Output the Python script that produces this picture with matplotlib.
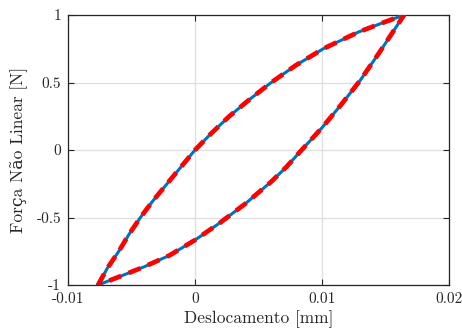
import matplotlib
matplotlib.use("Agg")
import matplotlib.pyplot as plt

plt.rcParams['font.family'] = ['cmr10', 'DejaVu Serif']
plt.rcParams['mathtext.fontset'] = 'cm'
plt.rcParams['axes.unicode_minus'] = False
plt.rcParams['axes.formatter.use_mathtext'] = False

# hysteresis loop: upper branch (loading)
desloc_up = [-0.00764, -0.0069, -0.0060, -0.0052, -0.0043, -0.0033, -0.0022,
             -0.0011, 0.0, 0.0013, 0.0027, 0.0043, 0.0060, 0.0079, 0.0101,
             0.0129, 0.0150, 0.01646]
forca_up = [-1.0, -0.875, -0.75, -0.625, -0.5, -0.375, -0.25,
            -0.125, 0.0, 0.125, 0.25, 0.375, 0.5, 0.625, 0.75,
            0.875, 0.95, 1.0]

# lower branch (unloading), back to the start
desloc_down = [0.01646, 0.0145, 0.0130, 0.0115, 0.0100, 0.0083, 0.0072,
               0.0060, 0.0040, 0.0020, 0.0, -0.0020, -0.0040, -0.0060,
               -0.00764]
forca_down = [1.0, 0.72, 0.515, 0.335, 0.165, -0.01, -0.125,
              -0.235, -0.395, -0.537, -0.667, -0.78, -0.865, -0.94,
              -1.0]

x_ref = desloc_up + desloc_down[1:]
f_ref = forca_up + forca_down[1:]

fig = plt.figure(figsize=(4.62, 3.29), dpi=100)
ax = fig.add_axes([0.1472, 0.1337, 0.8247, 0.8207])

ax.plot(x_ref, f_ref, color='#0072BD', lw=2.2, solid_joinstyle='round', zorder=3)
ax.plot(x_ref, f_ref, color='#FF0000', lw=3.4, ls=(0, (2.7, 1.7)),
        dash_capstyle='butt', zorder=4)

ax.set_xlim(-0.01, 0.02)
ax.set_ylim(-1, 1)
ax.set_xticks([-0.01, 0, 0.01, 0.02])
ax.set_xticklabels(['-0.01', '0', '0.01', '0.02'])
ax.set_yticks([-1, -0.5, 0, 0.5, 1])
ax.set_yticklabels(['-1', '-0.5', '0', '0.5', '1'])

ax.grid(True, color='#dfdfdf', lw=0.9)
ax.set_axisbelow(True)
for s in ax.spines.values():
    s.set_color('#262626')
    s.set_linewidth(0.9)
ax.tick_params(direction='in', top=True, right=True, length=4, width=0.8,
               colors='#262626', labelsize=11, pad=5)

ax.set_xlabel('Deslocamento [mm]', fontsize=12.5, color='#262626', labelpad=3)
ax.set_ylabel('Força Não Linear [N]', fontsize=12.5, color='#262626', labelpad=6)

fig.savefig('out.png', dpi=100)
